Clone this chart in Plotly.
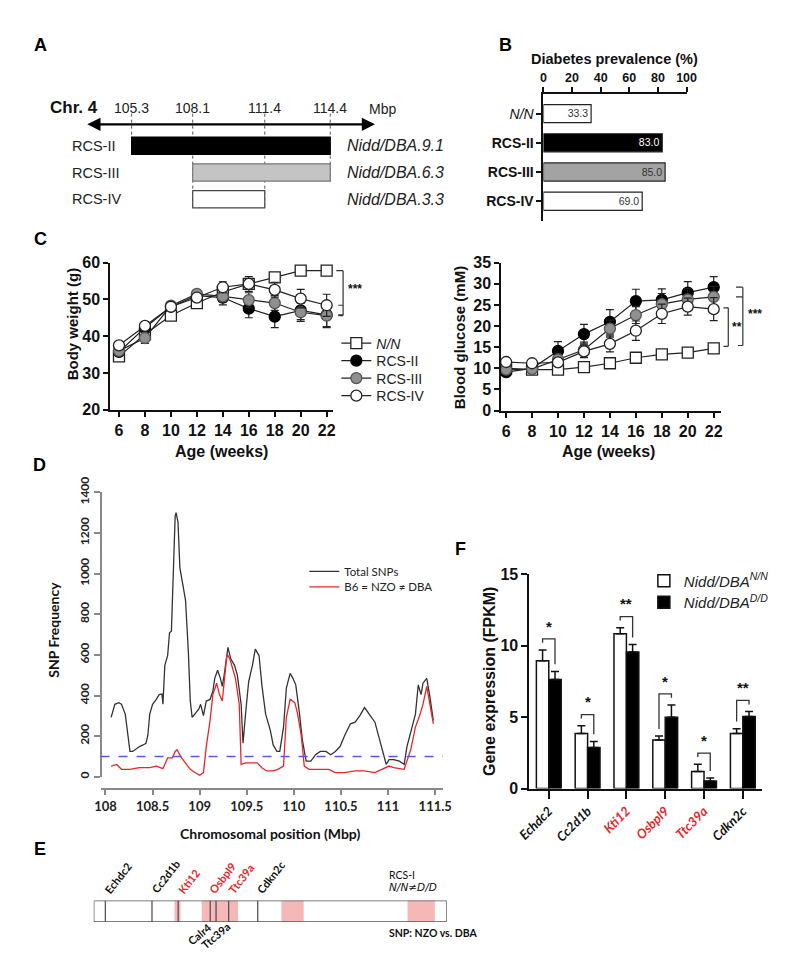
import plotly.graph_objects as go

# The page keeps the browser's default 8px body margin: the figure is drawn 16px
# smaller than the 788x974 window and reference pixels are shifted by 8px.
WIN_W, WIN_H = 788, 974
OFF = 8
W, H = WIN_W - 2 * OFF, WIN_H - 2 * OFF
SANS = "Liberation Sans, Arial, sans-serif"
CAL = "Lato, Carlito, Calibri, sans-serif"
RED = "#e8262a"


def px(x):
    return (x - OFF) / W


def py(y):
    return 1 - (y - OFF) / H


# ---------------- DATA ----------------
# Panel A: congenic strains on Chr. 4 (Mbp)
a_rows = ["RCS-II", "RCS-III", "RCS-IV"]
a_start = [105.3, 108.1, 108.1]
a_end = [114.4, 114.4, 111.4]
a_loci = ["Nidd/DBA.9.1", "Nidd/DBA.6.3", "Nidd/DBA.3.3"]
a_marks = [105.3, 108.1, 111.4, 114.4]

# Panel B: diabetes prevalence (%)
b_groups = ["N/N", "RCS-II", "RCS-III", "RCS-IV"]
b_ticktext = ["<i>N/N</i>", "<b>RCS-II</b>", "<b>RCS-III</b>", "<b>RCS-IV</b>"]
b_prev = [33.3, 83.0, 85.0, 69.0]

# Panel C: body weight (g) and blood glucose (mM)
weeks = [6, 8, 10, 12, 14, 16, 18, 20, 22]
c_names = ["<i>N/N</i>", "RCS-II", "RCS-III", "RCS-IV"]
bw_nn = [34.5, 40.5, 45.6, 49.0, 52.0, 54.2, 56.0, 57.8, 57.8]
bw_rcs2 = [35.7, 42.3, 48.0, 51.0, 50.5, 47.5, 45.3, 47.0, 45.8]
bw_rcs3 = [36.0, 39.5, 48.3, 51.5, 50.8, 49.8, 49.0, 46.5, 45.6]
bw_rcs4 = [37.5, 42.8, 48.0, 50.5, 53.3, 54.2, 52.6, 50.2, 48.4]
bw_err_nn = [0.8, 1.0, 0.8, 0.8, 1.5, 1.0, 1.0, 0.8, 0.8]
bw_err_rcs2 = [1.0, 1.2, 1.0, 1.0, 2.0, 2.5, 3.0, 2.5, 3.5]
bw_err_rcs3 = [1.0, 1.5, 1.0, 1.0, 1.5, 2.0, 2.0, 2.5, 3.0]
bw_err_rcs4 = [1.0, 1.0, 1.0, 1.0, 1.5, 2.0, 2.0, 2.5, 3.0]
bg_nn = [10.0, 9.7, 9.7, 10.3, 11.2, 12.5, 13.3, 13.7, 14.7]
bg_rcs2 = [9.1, 10.0, 14.1, 18.1, 21.0, 25.9, 26.2, 27.9, 29.2]
bg_rcs3 = [9.7, 9.8, 12.1, 14.4, 19.4, 22.6, 25.2, 26.3, 26.9]
bg_rcs4 = [11.5, 11.2, 11.4, 14.0, 15.8, 18.9, 22.9, 24.6, 24.0]
bg_err_nn = [0.4, 0.4, 0.4, 0.5, 0.6, 0.6, 0.7, 0.7, 1.0]
bg_err_rcs2 = [0.3, 0.3, 2.2, 2.3, 2.9, 2.8, 2.6, 2.6, 2.5]
bg_err_rcs3 = [0.3, 0.3, 1.5, 1.8, 2.0, 2.0, 2.5, 2.5, 2.5]
bg_err_rcs4 = [0.4, 0.4, 0.8, 1.5, 1.9, 2.3, 2.3, 2.0, 2.7]

# Panel D: SNP frequency along the chromosome (Mbp)
snp_pos_total = [108.06, 108.10, 108.14, 108.17, 108.21, 108.24, 108.26, 108.29, 108.33, 108.36,
                 108.40, 108.43, 108.45, 108.47, 108.50, 108.54, 108.57, 108.60, 108.61, 108.63,
                 108.66, 108.68, 108.70, 108.72, 108.74, 108.75, 108.77, 108.79, 108.81, 108.85,
                 108.88, 108.90, 108.92, 108.95, 108.99, 109.01, 109.04, 109.07, 109.11, 109.14,
                 109.16, 109.19, 109.22, 109.24, 109.26, 109.30, 109.33, 109.37, 109.40, 109.44,
                 109.46, 109.49, 109.52, 109.56, 109.59, 109.63, 109.66, 109.70, 109.75, 109.78,
                 109.82, 109.85, 109.89, 109.92, 109.96, 109.99, 110.02, 110.06, 110.09, 110.13,
                 110.18, 110.23, 110.28, 110.34, 110.39, 110.44, 110.49, 110.54, 110.60, 110.65,
                 110.70, 110.75, 110.80, 110.86, 110.92, 110.98, 111.01, 111.06, 111.12, 111.17,
                 111.20, 111.25, 111.29, 111.32, 111.35, 111.37, 111.41, 111.44, 111.48]
snp_total = [293, 357, 365, 357, 309, 197, 125, 125, 141, 149,
             157, 165, 205, 309, 357, 381, 405, 408, 357, 549,
             597, 709, 717, 997, 1285, 1301, 1253, 1029, 981, 869,
             613, 373, 293, 309, 333, 357, 301, 373, 381, 421,
             485, 525, 485, 445, 501, 637, 581, 549, 501, 357,
             165, 325, 469, 549, 629, 597, 453, 309, 229, 157,
             125, 125, 245, 437, 509, 485, 453, 309, 181, 77,
             77, 109, 125, 125, 109, 125, 149, 205, 261, 269,
             301, 341, 309, 269, 165, 61, 85, 85, 77, 61,
             149, 245, 309, 453, 405, 461, 485, 405, 277]
snp_pos_red = [108.06, 108.12, 108.17, 108.26, 108.36, 108.47, 108.54, 108.61, 108.66, 108.71,
               108.74, 108.76, 108.80, 108.85, 108.90, 108.95, 109.00, 109.04, 109.07, 109.11,
               109.14, 109.18, 109.21, 109.24, 109.26, 109.29, 109.32, 109.35, 109.38, 109.42,
               109.44, 109.49, 109.54, 109.61, 109.66, 109.71, 109.78, 109.83, 109.89, 109.92,
               109.96, 110.01, 110.04, 110.08, 110.11, 110.16, 110.27, 110.37, 110.44, 110.54,
               110.65, 110.75, 110.86, 110.96, 111.01, 111.06, 111.17, 111.24, 111.29, 111.34,
               111.37, 111.41, 111.44, 111.48]
snp_red = [53, 61, 37, 37, 45, 45, 53, 40, 93, 93,
           125, 133, 98, 69, 37, 21, 8, 21, 149, 277,
           405, 461, 405, 373, 469, 605, 581, 533, 485, 357,
           61, 69, 69, 69, 45, 29, 29, 37, 53, 293,
           381, 365, 309, 197, 53, 37, 37, 37, 21, 21,
           29, 29, 21, 45, 53, 45, 37, 133, 245, 309,
           357, 445, 357, 261]
snp_threshold = 100

# Panel E: gene map (Mbp)
e_span = [108.0, 111.5]
e_gene_lines = [108.115, 108.577, 108.837, 109.154, 109.212, 109.337, 109.625]
e_snp_bands = [[108.80, 108.86], [109.07, 109.43], [109.86, 110.08], [111.11, 111.38]]
e_label_names = ["Echdc2", "Cc2d1b", "Kti12", "Osbpl9", "Ttc39a", "Cdkn2c", "Calr4", "Ttc39a"]
e_label_pos = [108.115, 108.577, 108.837, 109.154, 109.337, 109.625, 109.154, 109.337]
e_label_side = ["top", "top", "top", "top", "top", "top", "bottom", "bottom"]
e_label_red = [False, False, True, True, True, False, False, False]

# Panel F: gene expression (FPKM)
f_genes = ["Echdc2", "Cc2d1b", "Kti12", "Osbpl9", "Ttc39a", "Cdkn2c"]
f_gene_red = [False, False, True, True, True, False]
f_nn = [8.95, 3.85, 10.83, 3.40, 1.20, 3.85]
f_nn_err = [0.75, 0.55, 0.43, 0.27, 0.50, 0.34]
f_dd = [7.64, 2.88, 9.56, 4.99, 0.52, 5.05]
f_dd_err = [0.56, 0.42, 0.52, 0.86, 0.21, 0.34]
f_sig = ["*", "*", "**", "*", "*", "**"]

# ---------------- FIGURE ----------------
fig = go.Figure()
shapes = []
anns = []


def ann(text, x, y, size=13, xanchor="center", yanchor="middle", family=SANS,
        color="#111", angle=0, xref="paper", yref="paper", **kw):
    anns.append(dict(text=text, x=x, y=y, xref=xref, yref=yref, showarrow=False,
                     xanchor=xanchor, yanchor=yanchor, textangle=angle,
                     font=dict(family=family, size=size, color=color), **kw))


# ---- Panel A ----
fig.add_trace(go.Bar(
    orientation="h", y=list(range(len(a_rows))),
    x=[e - s for s, e in zip(a_start, a_end)], base=a_start, width=0.65,
    marker=dict(color=["#000000", "#c4c4c4", "#ffffff"],
                line=dict(color=["#000000", "#777777", "#444444"], width=1.2)),
    xaxis="x", yaxis="y", showlegend=False, hoverinfo="skip"))
for v in a_marks:
    rmax = max(i for i in range(len(a_rows)) if a_start[i] == v or a_end[i] == v)
    shapes.append(dict(type="line", xref="x", yref="y", x0=v, x1=v, y0=-1.2, y1=rmax + 0.325,
                       line=dict(color="#555", width=1, dash="dot"), layer="below"))
    ann(f"{v}", v, -1.4, size=14, xref="x", yref="y", color="#222")
anns.append(dict(x=116.45, y=-0.8, ax=103.2, ay=-0.8, xref="x", yref="y", axref="x", ayref="y",
                 text="", showarrow=True, arrowhead=2, arrowside="end+start", arrowsize=1.1,
                 arrowwidth=2.4, arrowcolor="#000"))
for i, r in enumerate(a_rows):
    ann(r, px(59), i, size=14.5, xanchor="left", yref="y", color="#222")
    ann(f"<i>{a_loci[i]}</i>", px(342), i, size=16, xanchor="left", yref="y", color="#222")
ann("<b>Chr. 4</b>", px(36), py(94), size=17, xanchor="left")
ann("Mbp", px(365), py(95), size=14, xanchor="left", color="#222")

# ---- Panel B ----
fig.add_trace(go.Bar(
    orientation="h", y=list(range(len(b_groups))), x=b_prev, width=0.62,
    marker=dict(color=["#ffffff", "#000000", "#a3a3a3", "#ffffff"], line=dict(color="#222", width=1.2)),
    text=[f"{v:.1f}" for v in b_prev], textposition="inside", insidetextanchor="end", textangle=0,
    textfont=dict(family=SANS, size=13, color=["#333", "#fff", "#333", "#333"]),
    xaxis="x2", yaxis="y2", showlegend=False, hoverinfo="skip"))
ann("<b>Diabetes prevalence (%)</b>", px(620), py(44), size=14.5)

# ---- Panel C ----
c_symbol = ["square", "circle", "circle", "circle"]
c_fill = ["#ffffff", "#000000", "#8f8f8f", "#ffffff"]
c_edge = ["#222222", "#000000", "#555555", "#222222"]
c_legends = ["legend", "legend4", "legend5", "legend6"]
c_legend_rows = [336, 354, 372, 390]
bw_all = [bw_nn, bw_rcs2, bw_rcs3, bw_rcs4]
bw_err_all = [bw_err_nn, bw_err_rcs2, bw_err_rcs3, bw_err_rcs4]
bg_all = [bg_nn, bg_rcs2, bg_rcs3, bg_rcs4]
bg_err_all = [bg_err_nn, bg_err_rcs2, bg_err_rcs3, bg_err_rcs4]
for i in range(4):
    for ys, es, xa, ya, leg in [(bw_all[i], bw_err_all[i], "x3", "y3", True),
                                (bg_all[i], bg_err_all[i], "x4", "y4", False)]:
        fig.add_trace(go.Scatter(
            x=weeks, y=ys, mode="lines+markers", name=c_names[i], legend=c_legends[i],
            showlegend=leg, cliponaxis=False,
            line=dict(color="#222", width=1.2),
            marker=dict(symbol=c_symbol[i], size=11, color=c_fill[i], line=dict(color=c_edge[i], width=1.3)),
            error_y=dict(type="data", array=es, color="#222", thickness=1.2, width=4),
            xaxis=xa, yaxis=ya, hoverinfo="skip"))

# significance brackets (C left)
bl = dict(color="#333", width=1.2)
top_bw = bw_nn[-1]
others_bw = [bw_rcs2[-1], bw_rcs3[-1], bw_rcs4[-1]]
shapes.append(dict(type="line", xref="paper", yref="y3", x0=px(340), x1=px(340), y0=top_bw, y1=min(others_bw), line=bl))
shapes.append(dict(type="line", xref="paper", yref="y3", x0=px(333), x1=px(340), y0=top_bw, y1=top_bw, line=bl))
for v in others_bw:
    shapes.append(dict(type="line", xref="paper", yref="y3", x0=px(335), x1=px(340), y0=v, y1=v, line=bl))
ann("<b>***</b>", px(343), (top_bw + min(others_bw)) / 2 + 1, size=12, xanchor="left", yref="y3")

# significance brackets (C right)
g_low = bg_nn[-1] + 0.7
shapes.append(dict(type="line", xref="paper", yref="y4", x0=px(752), x1=px(752), y0=bg_rcs2[-1], y1=g_low, line=bl))
for v in [bg_rcs2[-1], bg_rcs3[-1]]:
    shapes.append(dict(type="line", xref="paper", yref="y4", x0=px(745), x1=px(752), y0=v, y1=v, line=bl))
shapes.append(dict(type="line", xref="paper", yref="y4", x0=px(747), x1=px(752), y0=g_low, y1=g_low, line=bl))
ann("<b>***</b>", px(755), (bg_rcs2[-1] + g_low) / 2 + 0.5, size=12, xanchor="left", yref="y4")
g_low2 = bg_nn[-1] + 0.5
g_top2 = bg_rcs4[-1] + 0.3
shapes.append(dict(type="line", xref="paper", yref="y4", x0=px(737), x1=px(737), y0=g_top2, y1=g_low2, line=bl))
for v in [g_top2, g_low2]:
    shapes.append(dict(type="line", xref="paper", yref="y4", x0=px(732), x1=px(737), y0=v, y1=v, line=bl))
ann("<b>**</b>", px(739), (g_top2 + g_low2) / 2, size=12, xanchor="left", yref="y4")

ann("<b>Body weight (g)</b>", px(62), py(316), size=15, angle=-90)
ann("<b>Blood glucose (mM)</b>", px(460), py(330), size=15, angle=-90)
ann("<b>Age (weeks)</b>", px(215), py(447), size=16)
ann("<b>Age (weeks)</b>", px(614), py(447), size=16)

# ---- Panel D ----
fig.add_trace(go.Scatter(x=snp_pos_total, y=snp_total, mode="lines", name="Total SNPs",
                         line=dict(color="#333", width=1.3), xaxis="x5", yaxis="y5",
                         legend="legend2", hoverinfo="skip"))
fig.add_trace(go.Scatter(x=snp_pos_red, y=snp_red, mode="lines", name="B6 = NZO ≠ DBA",
                         line=dict(color=RED, width=1.3), xaxis="x5", yaxis="y5",
                         legend="legend7", hoverinfo="skip"))
shapes.append(dict(type="line", xref="x5 domain", yref="y5", x0=0, x1=1, y0=snp_threshold, y1=snp_threshold,
                   line=dict(color="#5a5ae0", width=1.3, dash="dash")))
ann("<b>SNP Frequency</b>", px(42), py(630), size=14, angle=-90, family=CAL)
ann("<b>Chromosomal position (Mbp)</b>", px(265), py(839), size=14, family=CAL)

# ---- Panel E ----
for b0, b1 in e_snp_bands:
    shapes.append(dict(type="rect", xref="x6", yref="y6", x0=b0, x1=b1, y0=0, y1=1,
                       fillcolor="#f6b7b7", line=dict(width=0), layer="below"))
shapes.append(dict(type="rect", xref="x6", yref="y6", x0=e_span[0], x1=e_span[1], y0=0, y1=1,
                   line=dict(color="#555", width=1.3)))
for g in e_gene_lines:
    shapes.append(dict(type="line", xref="x6", yref="y6", x0=g, x1=g, y0=0, y1=1,
                       line=dict(color="#555", width=1.3)))
for name, pos, side, red in zip(e_label_names, e_label_pos, e_label_side, e_label_red):
    col = RED if red else "#111"
    if side == "top":
        ann(f"<b>{name}</b>", pos, 1, size=11, family=CAL, color=col, angle=-52,
            xanchor="left", yanchor="bottom", xref="x6", yref="y6", xshift=-6, yshift=2)
    else:
        ann(f"<b>{name}</b>", pos, 0, size=11, family=CAL, color=col, angle=-40,
            xanchor="right", yanchor="top", xref="x6", yref="y6", xshift=7, yshift=5)
ann("RCS-I", px(385), py(882), size=10.5, family=CAL, xanchor="left")
ann("<i>N/N≠D/D</i>", px(385), py(894), size=10.5, family="DejaVu Sans, sans-serif", xanchor="left")
ann("<b>SNP: NZO vs. DBA</b>", px(385), py(941), size=10.5, family=CAL, xanchor="left")

# ---- Panel F ----
fx = list(range(len(f_genes)))
fig.add_trace(go.Bar(x=fx, y=f_nn, width=0.32, offset=-0.32, name="<i>Nidd/DBA<sup>N/N</sup></i>",
                     marker=dict(color="#ffffff", line=dict(color="#111", width=1.5)),
                     error_y=dict(type="data", array=f_nn_err, arrayminus=[0] * len(f_nn), symmetric=False,
                                  color="#111", thickness=1.5, width=4),
                     xaxis="x7", yaxis="y7", legend="legend3", hoverinfo="skip"))
fig.add_trace(go.Bar(x=fx, y=f_dd, width=0.32, offset=0.0, name="<i>Nidd/DBA<sup>D/D</sup></i>",
                     marker=dict(color="#000000", line=dict(color="#111", width=1.5)),
                     error_y=dict(type="data", array=f_dd_err, arrayminus=[0] * len(f_dd), symmetric=False,
                                  color="#111", thickness=1.5, width=4),
                     xaxis="x7", yaxis="y7", legend="legend8", hoverinfo="skip"))
for i in fx:
    t1 = f_nn[i] + f_nn_err[i]
    t2 = f_dd[i] + f_dd_err[i]
    top = max(t1, t2) + 0.78
    lb = min(t1 + 0.5, top - 0.28)
    rb = min(t2 + 0.5, top - 0.28)
    xl, xr = i - 0.16, i + 0.16
    shapes.append(dict(type="path", xref="x7", yref="y7",
                       path=f"M{xl},{lb} L{xl},{top} L{xr},{top} L{xr},{rb}",
                       line=dict(color="#333", width=1.3)))
    ann(f"<b>{f_sig[i]}</b>", i, top + 0.15, size=15, yanchor="bottom", xref="x7", yref="y7")
ann("<b>Gene expression (FPKM)</b>", px(491), py(683), size=16, angle=-90)

f_ticktext = [f'<b><i><span style="color:{RED if r else "#111"}">{g}</span></i></b>'
              for g, r in zip(f_genes, f_gene_red)]

# ---- panel letters ----
for letter, (lx, ly) in {"A": (28, 30), "B": (507, 30), "C": (28, 229), "D": (27, 461),
                         "E": (28, 855), "F": (461, 547)}.items():
    ann(f"<b>{letter}</b>", px(lx), py(ly), size=18, color="#000")

# ---------------- LAYOUT ----------------
hidden = dict(visible=False, showgrid=False, zeroline=False)
ax_common = dict(showgrid=False, zeroline=False, showline=True, linecolor="#111", linewidth=2,
                 ticks="outside", ticklen=5, tickwidth=2, tickcolor="#111")
bold16 = dict(family=SANS, size=16, color="#111", weight="bold")


def one_legend(xp, yp, family, size):
    return dict(x=px(xp), y=py(yp), xanchor="left", yanchor="middle", bgcolor="rgba(0,0,0,0)",
                font=dict(family=family, size=size, color="#222"), tracegroupgap=0)


legends = {}
for name, row in zip(c_legends, c_legend_rows):
    legends[name] = one_legend(333, row, SANS, 14)
legends["legend2"] = one_legend(300, 570, CAL, 11.5)
legends["legend7"] = one_legend(300, 586, CAL, 11.5)
legends["legend3"] = one_legend(650, 580, SANS, 15)
legends["legend8"] = one_legend(650, 602, SANS, 15)

fig.update_layout(
    width=W, height=H, margin=dict(l=0, r=0, t=0, b=0),
    paper_bgcolor="white", plot_bgcolor="rgba(0,0,0,0)",
    barmode="overlay", font=dict(family=SANS, color="#111"),
    xaxis=dict(domain=[px(60), px(400)], range=[102.544, 117.656], anchor="y", **hidden),
    yaxis=dict(domain=[py(205), py(80)], range=[2.62, -1.93], anchor="x", **hidden),
    xaxis2=dict(domain=[px(546.5), px(694)], range=[0, 100], anchor="y2", side="top",
                tickvals=[0, 20, 40, 60, 80, 100],
                tickfont=dict(family=SANS, size=12.5, color="#111", weight="bold"), **ax_common),
    yaxis2=dict(domain=[py(210), py(80)], range=[3.667, -0.667], anchor="x2",
                tickvals=list(range(len(b_groups))), ticktext=b_ticktext,
                tickfont=dict(family=SANS, size=14, color="#111"), **ax_common),
    xaxis3=dict(domain=[px(100), px(330)], range=[5.327, 22.52], anchor="y3", tickvals=weeks,
                tickfont=bold16, **ax_common),
    yaxis3=dict(domain=[py(404), py(253)], range=[20, 60], anchor="x3", dtick=10,
                tickfont=bold16, **ax_common),
    xaxis4=dict(domain=[px(503), px(730)], range=[5.626, 22.6], anchor="y4", tickvals=weeks,
                tickfont=bold16, **ax_common),
    yaxis4=dict(domain=[py(405), py(253)], range=[0, 35], anchor="x4", dtick=5,
                tickfont=bold16, **ax_common),
    xaxis5=dict(domain=[px(90), px(443)], range=[107.948, 111.583], anchor="free", position=py(793),
                tickvals=[108, 108.5, 109, 109.5, 110, 110.5, 111, 111.5],
                ticktext=["108", "108.5", "109", "109.5", "110", "110.5", "111", "111.5"],
                showgrid=False, zeroline=False, showline=True, linecolor="#888", linewidth=1.5,
                ticks="outside", ticklen=6, tickwidth=1.5, tickcolor="#888",
                tickfont=dict(family=CAL, size=13, color="#222", weight="bold")),
    yaxis5=dict(domain=[py(781), py(489)], range=[0, 1400], anchor="free", position=px(90),
                dtick=200, tickangle=-90,
                showgrid=False, zeroline=False, showline=True, linecolor="#888", linewidth=1.5,
                ticks="outside", ticklen=6, tickwidth=1.5, tickcolor="#888",
                tickfont=dict(family=CAL, size=12, color="#222", weight="bold")),
    xaxis6=dict(domain=[px(83), px(447)], range=e_span, anchor="y6", **hidden),
    yaxis6=dict(domain=[py(930), py(908)], range=[0, 1], anchor="x6", **hidden),
    xaxis7=dict(domain=[px(532), px(772)], range=[-0.5, 5.5], anchor="y7", tickvals=fx,
                ticktext=f_ticktext, tickangle=-45,
                tickfont=dict(family=CAL, size=13, color="#111"),
                showgrid=False, zeroline=False, showline=True, linecolor="#111", linewidth=2,
                ticks="outside", ticklen=8, tickwidth=2, tickcolor="#111"),
    yaxis7=dict(domain=[py(793), py(573)], range=[0, 15], anchor="x7", dtick=5,
                tickfont=bold16, **dict(ax_common, ticklen=6)),
    shapes=shapes, annotations=anns,
    **legends,
)

fig.write_html("out.html", config={"displayModeBar": False})
